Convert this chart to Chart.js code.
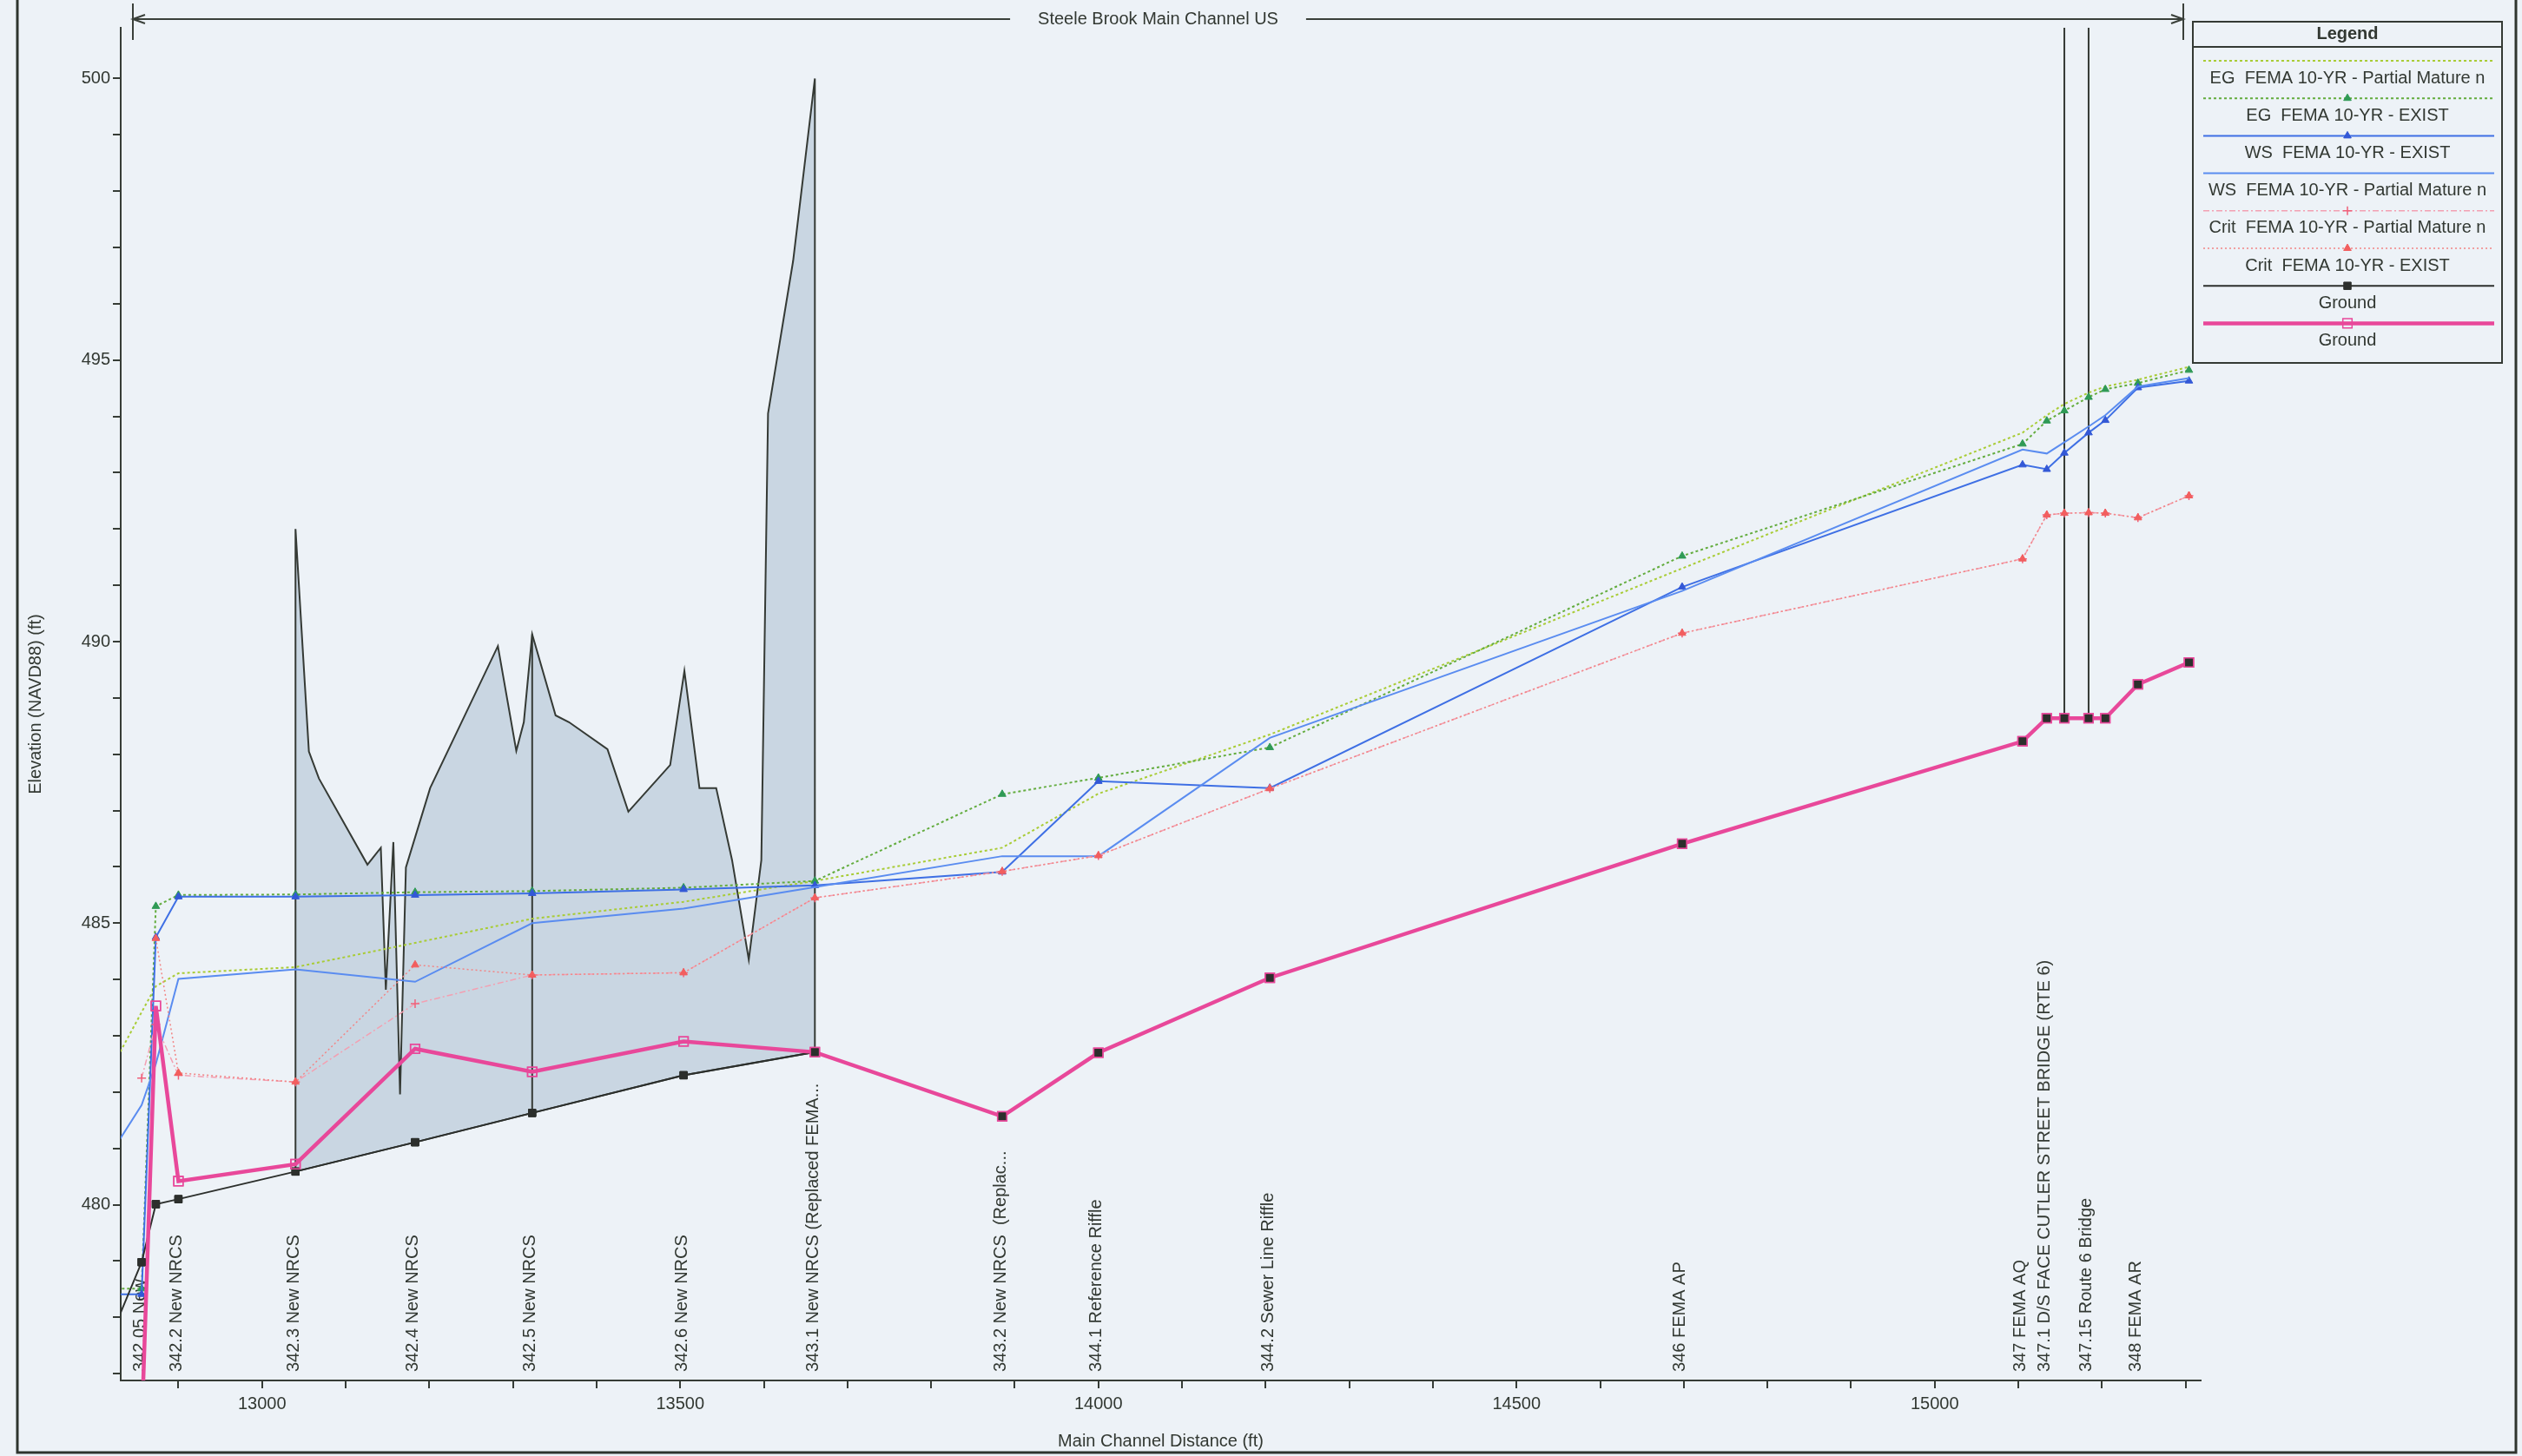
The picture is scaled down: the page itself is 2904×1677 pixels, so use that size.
<!DOCTYPE html>
<html>
<head>
<meta charset="utf-8">
<title>Steele Brook Main Channel US - Profile</title>
<script src="https://cdn.jsdelivr.net/npm/chart.js@4.4.1/dist/chart.umd.min.js"></script>
<style>
  html, body { margin: 0; padding: 0; background: #edf2f7; }
  canvas { display: block; }
</style>
</head>
<body>
<canvas id="profile" width="2904" height="1677"></canvas>
<script>
// Cross-section positions along the main channel (ft). The first one lies just upstream of the plotted window.
const stations = [12795, 12856, 12873, 12900, 13040, 13183, 13323, 13504, 13661, 13885, 14000, 14205, 14698, 15105, 15134, 15155, 15184, 15204, 15243, 15304];

// 10-yr FEMA profiles (elevation, ft NAVD88) at each station
const egPartial   = [481.74, 483.42, 483.88, 484.11, 484.22, 484.65, 485.08, 485.38, 485.75, 486.34, 487.30, 488.35, 491.30, 493.71, 494.02, 494.22, 494.42, 494.53, 494.65, 494.88];
const egExist     = [478.51, 478.51, 485.30, 485.50, 485.51, 485.55, 485.57, 485.63, 485.75, 487.29, 487.58, 488.12, 491.52, 493.51, 493.92, 494.10, 494.34, 494.48, 494.59, 494.82];
const wsExist     = [478.41, 478.41, 484.75, 485.47, 485.47, 485.50, 485.53, 485.60, 485.67, 485.91, 487.52, 487.40, 490.97, 493.14, 493.06, 493.35, 493.71, 493.93, 494.51, 494.63];
const wsPartial   = [480.35, 481.77, 482.50, 484.01, 484.18, 483.96, 485.00, 485.26, 485.64, 486.19, 486.19, 488.29, 490.90, 493.41, 493.34, 493.54, 493.82, 494.02, 494.53, 494.68];
const critPartial = [null, 482.25, 483.20, 482.30, 482.18, 483.57, 484.08, 484.12, 485.45, 485.92, 486.20, 487.39, 490.15, 491.47, 492.25, 492.28, 492.29, 492.28, 492.20, 492.59];
const critExist   = [null, null, 484.73, 482.34, 482.18, 484.26, 484.08, 484.12, 485.45, 485.92, 486.20, 487.39, 490.15, 491.47, 492.25, 492.28, 492.29, 492.28, 492.20, 492.59];

// Channel invert: two ground profiles
const ground      = [476.80, 478.98, 480.01, 480.10, 480.59, 481.11, 481.63, 482.30, 482.71, 481.57, 482.70, 484.03, 486.41, 488.23, 488.64, 488.64, 488.64, 488.64, 489.24, 489.63];
const groundAlt   = [null, 476.00, 483.53, 480.42, 480.72, 482.77, 482.36, 482.90, 482.71, 481.57, 482.70, 484.03, 486.41, 488.23, 488.64, 488.64, 488.64, 488.64, 489.24, 489.63];

// Bank / high-ground outline over the New NRCS reach (shaded between it and the ground line)
const bankStations = [13040, 13056, 13068, 13126, 13142, 13148, 13157, 13165, 13172, 13201, 13282, 13304, 13313, 13323, 13351, 13367, 13413, 13438, 13488, 13505, 13523, 13543, 13562, 13582, 13597, 13605, 13635, 13661];
const bankElev     = [492.00, 488.05, 487.57, 486.04, 486.34, 483.82, 486.44, 481.96, 485.99, 487.40, 489.92, 488.06, 488.57, 490.13, 488.69, 488.57, 488.09, 486.98, 487.81, 489.48, 487.40, 487.40, 486.12, 484.35, 486.12, 494.05, 496.76, 500.00];
const bankDividers = [13323];

// Route 6 bridge faces; deck sits above the plotted range
const bridgeFaces = [15155, 15184];
const bridgeDeckTop = 501.5;

// River station labels
const labelStations = [12856, 12900, 13040, 13183, 13323, 13504, 13661, 13885, 14000, 14205, 14698, 15105, 15134, 15184, 15243];
const labelTexts = [
  "342.05 New",
  "342.2 New NRCS",
  "342.3 New NRCS",
  "342.4 New NRCS",
  "342.5 New NRCS",
  "342.6 New NRCS",
  "343.1 New NRCS (Replaced FEMA...",
  "343.2 New NRCS  (Replac...",
  "344.1 Reference Riffle",
  "344.2 Sewer Line Riffle",
  "346 FEMA AP",
  "347 FEMA AQ",
  "347.1 D/S FACE CUTLER STREET BRIDGE (RTE 6)",
  "347.15 Route 6 Bridge",
  "348 FEMA AR"
];

// Axis labels
const xTickLabels = [13000, 13500, 14000, 14500, 15000];
const yTickLabels = [480, 485, 490, 495, 500];

const FONT = '"Liberation Sans", Arial, sans-serif';
const INK = '#323832';
const PAPER = '#edf2f7';

Chart.defaults.font.family = FONT;
Chart.defaults.font.size = 20;
Chart.defaults.color = INK;

function series(values) {
  return stations.map((d, i) => ({ x: d, y: values[i] }));
}
function groundAt(d) {
  return ground[stations.indexOf(d)];
}
function bankAt(d) {
  return bankElev[bankStations.indexOf(d)];
}
// Closed outline: up the first bank section, along the bank top, down the last one, back along the ground
function bankOutline() {
  const first = bankStations[0];
  const last = bankStations[bankStations.length - 1];
  const pts = [{ x: first, y: groundAt(first) }];
  bankStations.forEach((d, i) => pts.push({ x: d, y: bankElev[i] }));
  pts.push({ x: last, y: groundAt(last) });
  stations.filter(d => d > first && d < last).reverse().forEach(d => pts.push({ x: d, y: groundAt(d) }));
  pts.push({ x: first, y: groundAt(first) });
  return pts;
}
function verticals(list, topFn) {
  const pts = [];
  list.forEach((d, i) => {
    if (i > 0) pts.push({ x: d, y: null });
    pts.push({ x: d, y: groundAt(d) });
    pts.push({ x: d, y: topFn(d) });
  });
  return pts;
}

const profileSets = [
  { label: 'EG  FEMA 10-YR - Partial Mature n', data: series(egPartial), borderColor: '#a9cc36', borderWidth: 2, borderDash: [3, 3],
    pointRadius: 0, order: 8, inLegend: true },
  { label: 'EG  FEMA 10-YR - EXIST', data: series(egExist), borderColor: '#63ac3e', borderWidth: 2, borderDash: [3, 3],
    pointStyle: 'triangle', pointRadius: 5, pointBackgroundColor: '#2f9a55', pointBorderColor: '#2f9a55', pointBorderWidth: 1, order: 7, inLegend: true },
  { label: 'WS  FEMA 10-YR - EXIST', data: series(wsExist), borderColor: '#3e6fe4', borderWidth: 2,
    pointStyle: 'triangle', pointRadius: 5, pointBackgroundColor: '#3358d6', pointBorderColor: '#3358d6', pointBorderWidth: 1, order: 6, inLegend: true },
  { label: 'WS  FEMA 10-YR - Partial Mature n', data: series(wsPartial), borderColor: '#5a8cf0', borderWidth: 2,
    pointRadius: 0, order: 5, inLegend: true },
  { label: 'Crit  FEMA 10-YR - Partial Mature n', data: series(critPartial), borderColor: '#f3a0b2', borderWidth: 1.5, borderDash: [7, 3, 2, 3],
    pointStyle: 'cross', pointRadius: 5, pointBackgroundColor: '#f0607a', pointBorderColor: '#f0607a', pointBorderWidth: 1.5, order: 4, inLegend: true },
  { label: 'Crit  FEMA 10-YR - EXIST', data: series(critExist), borderColor: '#f28585', borderWidth: 1.5, borderDash: [2, 3],
    pointStyle: 'triangle', pointRadius: 5, pointBackgroundColor: '#f25e5e', pointBorderColor: '#f25e5e', pointBorderWidth: 1, order: 3, inLegend: true },
  { label: 'Ground', id: 'ground', data: series(ground), borderColor: '#2c2f2c', borderWidth: 2,
    pointStyle: 'rect', pointRadius: 6, pointBackgroundColor: '#2c2f2c', pointBorderColor: '#2c2f2c', pointBorderWidth: 1, order: 2, inLegend: true },
  { label: 'Ground', id: 'groundAlt', data: series(groundAlt), borderColor: '#e8489a', borderWidth: 4.5,
    pointStyle: 'rect', pointRadius: 7.5, pointBackgroundColor: 'rgba(0,0,0,0)', pointBorderColor: '#e8489a', pointBorderWidth: 1.5, order: 1, inLegend: true },
  { label: 'bank', data: bankOutline(), borderColor: '#353a35', borderWidth: 2, backgroundColor: '#c9d6e2', fill: 'shape',
    pointRadius: 0, order: 12, spanGaps: false },
  { label: 'bank dividers', data: verticals(bankDividers, bankAt), borderColor: '#353a35', borderWidth: 2,
    pointRadius: 0, order: 11, spanGaps: false },
  { label: 'bridge', data: verticals(bridgeFaces, () => bridgeDeckTop), borderColor: '#353a35', borderWidth: 2,
    pointRadius: 0, order: 10, spanGaps: false }
];
profileSets.forEach(ds => {
  ds.showLine = true;
  if (ds.spanGaps === undefined) ds.spanGaps = true;
  if (ds.fill === undefined) ds.fill = false;
});

const decor = {
  id: 'decor',
  beforeDraw(chart) {
    const { ctx, width, height } = chart;
    ctx.save();
    ctx.fillStyle = PAPER;
    ctx.fillRect(0, 0, width, height);
    // page frame
    ctx.strokeStyle = '#2e342e';
    ctx.lineWidth = 3;
    ctx.beginPath();
    ctx.moveTo(20, 0);
    ctx.lineTo(20, height - 4);
    ctx.lineTo(width - 7, height - 4);
    ctx.lineTo(width - 7, 0);
    ctx.stroke();
    ctx.restore();
  },
  beforeDatasetsDraw(chart) {
    const { ctx, chartArea } = chart;
    const xs = chart.scales.x;
    ctx.save();
    ctx.font = '20px ' + FONT;
    ctx.fillStyle = INK;
    ctx.textAlign = 'left';
    ctx.textBaseline = 'middle';
    labelStations.forEach((d, i) => {
      const x = xs.getPixelForValue(d);
      ctx.save();
      ctx.translate(x - 2, chartArea.bottom - 10);
      ctx.rotate(-Math.PI / 2);
      ctx.fillText(labelTexts[i], 0, 0);
      ctx.restore();
    });
    ctx.restore();
  },
  afterDatasetDraw(chart, args) {
    // keep the solid ground markers visible on top of the wide ground line
    const ds = chart.data.datasets[args.index];
    if (ds.id !== 'groundAlt') return;
    const idx = chart.data.datasets.findIndex(d => d.id === 'ground');
    const area = chart.chartArea;
    const ctx = chart.ctx;
    ctx.save();
    ctx.beginPath();
    ctx.rect(area.left, area.top, area.right - area.left, area.bottom - area.top);
    ctx.clip();
    chart.getDatasetMeta(idx).data.forEach(p => p.draw(ctx, area));
    args.meta.data.forEach(p => p.draw(ctx, area));
    ctx.restore();
  },
  afterDraw(chart) {
    const { ctx, chartArea } = chart;
    ctx.save();
    // reach arrow with river/reach name
    const y0 = 22;
    const xl = chartArea.left + 14;
    const xr = chartArea.right - 20;
    const title = 'Steele Brook Main Channel US';
    ctx.font = '20px ' + FONT;
    ctx.fillStyle = INK;
    ctx.textAlign = 'center';
    ctx.textBaseline = 'middle';
    const cx = (xl + xr) / 2;
    ctx.fillText(title, cx, y0);
    const half = ctx.measureText(title).width / 2 + 32;
    ctx.strokeStyle = '#3a403a';
    ctx.lineWidth = 2;
    ctx.beginPath();
    ctx.moveTo(xl, y0); ctx.lineTo(cx - half, y0);
    ctx.moveTo(cx + half, y0); ctx.lineTo(xr, y0);
    ctx.moveTo(xl + 14, y0 - 5); ctx.lineTo(xl, y0); ctx.lineTo(xl + 14, y0 + 5);
    ctx.moveTo(xr - 14, y0 - 5); ctx.lineTo(xr, y0); ctx.lineTo(xr - 14, y0 + 5);
    ctx.moveTo(xl, 4); ctx.lineTo(xl, 46);
    ctx.moveTo(xr, 4); ctx.lineTo(xr, 46);
    ctx.stroke();

    // legend box
    const box = { left: 2525, top: 25, right: 2881, bottom: 418 };
    const mid = (box.left + box.right) / 2;
    ctx.fillStyle = PAPER;
    ctx.fillRect(box.left, box.top, box.right - box.left, box.bottom - box.top);
    ctx.strokeStyle = '#343a34';
    ctx.lineWidth = 2;
    ctx.strokeRect(box.left, box.top, box.right - box.left, box.bottom - box.top);
    ctx.beginPath();
    ctx.moveTo(box.left, 54); ctx.lineTo(box.right, 54);
    ctx.stroke();
    ctx.fillStyle = INK;
    ctx.font = 'bold 20px ' + FONT;
    ctx.fillText('Legend', mid, 39);
    ctx.font = '20px ' + FONT;
    chart.data.datasets.filter(d => d.inLegend).forEach((d, i) => {
      const ly = 70 + i * 43.2;
      ctx.save();
      ctx.strokeStyle = d.borderColor;
      ctx.lineWidth = d.borderWidth;
      ctx.setLineDash(d.borderDash || []);
      ctx.beginPath();
      ctx.moveTo(box.left + 12, ly);
      ctx.lineTo(box.right - 9, ly);
      ctx.stroke();
      ctx.restore();
      if (d.pointRadius > 0) {
        ctx.save();
        ctx.fillStyle = d.pointBackgroundColor;
        ctx.strokeStyle = d.pointBorderColor;
        ctx.lineWidth = d.pointBorderWidth;
        Chart.helpers.drawPoint(ctx, { pointStyle: d.pointStyle, radius: d.pointRadius, rotation: 0, borderWidth: d.pointBorderWidth }, mid, ly);
        ctx.restore();
      }
      ctx.fillStyle = INK;
      ctx.fillText(d.label, mid, ly + 20);
    });
    ctx.restore();
  }
};

const axisColor = '#363c36';

new Chart(document.getElementById('profile'), {
  type: 'scatter',
  data: { datasets: profileSets },
  options: {
    responsive: false,
    devicePixelRatio: 1,
    animation: false,
    events: [],
    layout: { padding: { left: 0, top: 32, right: 370, bottom: 0 } },
    elements: { line: { tension: 0 } },
    plugins: { legend: { display: false }, tooltip: { enabled: false } },
    scales: {
      x: {
        type: 'linear',
        position: 'bottom',
        min: 12831,
        max: 15318,
        afterFit(scale) { scale.height = 87; },
        ticks: {
          stepSize: 100,
          autoSkip: false,
          maxRotation: 0,
          includeBounds: false,
          padding: 6,
          color: INK,
          font: { size: 20 },
          callback: v => xTickLabels.includes(v) ? String(v) : ''
        },
        grid: { drawOnChartArea: false, drawTicks: true, tickLength: 9, color: axisColor, lineWidth: 2 },
        border: { display: true, color: axisColor, width: 2 },
        title: { display: true, text: 'Main Channel Distance (ft)', color: INK, font: { size: 20 }, padding: { top: 0, bottom: 5 } }
      },
      y: {
        type: 'linear',
        position: 'left',
        min: 476.88,
        max: 500.9,
        afterFit(scale) { scale.width = 139; },
        ticks: {
          stepSize: 1,
          autoSkip: false,
          includeBounds: false,
          padding: 3,
          color: INK,
          font: { size: 20 },
          callback: v => yTickLabels.includes(v) ? String(v) : ''
        },
        grid: { drawOnChartArea: false, drawTicks: true, tickLength: 9, color: axisColor, lineWidth: 2 },
        border: { display: true, color: axisColor, width: 2 },
        title: { display: true, text: 'Elevation (NAVD88) (ft)', color: INK, font: { size: 20 }, padding: { top: 29, bottom: 0 } }
      }
    }
  },
  plugins: [decor]
});
</script>
</body>
</html>
